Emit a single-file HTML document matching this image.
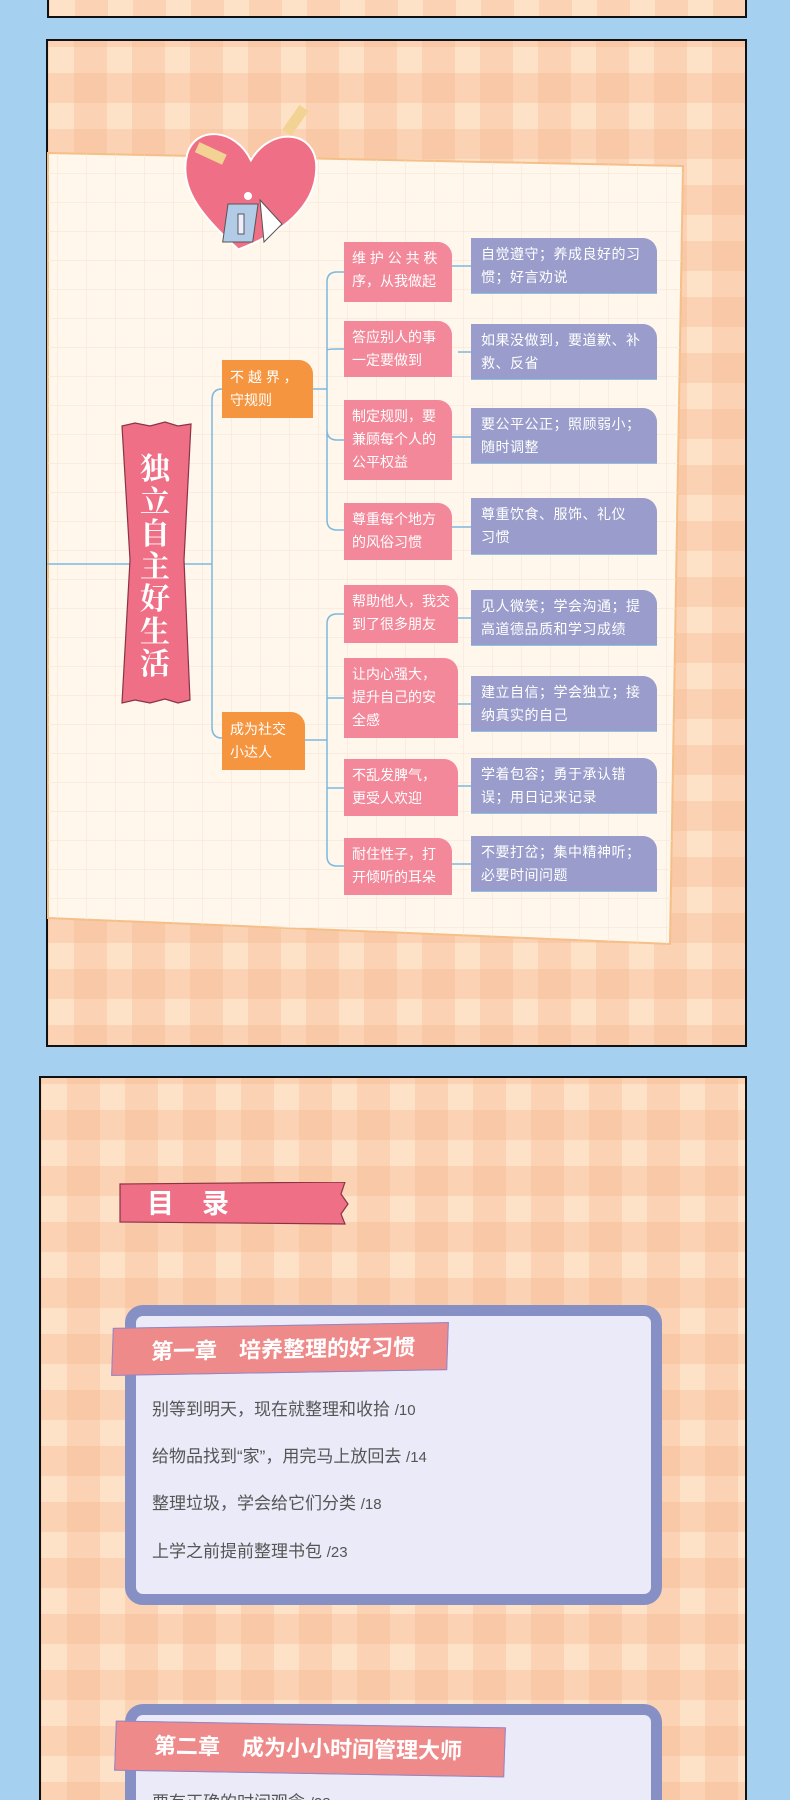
<!DOCTYPE html>
<html style="width:790px;height:1800px;overflow:hidden"><head><meta charset="utf-8"><style>
*{margin:0;padding:0;box-sizing:border-box}
html,body{width:790px;height:1800px;overflow:hidden}
body{background:#a6d0f0;position:relative;font-family:"Liberation Sans","Noto Sans CJK SC",sans-serif}
.panel{position:absolute;border:2px solid #111;background-color:#fde2c8;
background-image:linear-gradient(90deg,rgba(246,180,140,.35) 0 33px,transparent 33px 58px),linear-gradient(0deg,rgba(246,180,140,.35) 0 30px,transparent 30px 56px);
background-size:58px 56px,58px 56px;background-position:26px 0,0 6px}
.a{position:absolute}
.pk{position:absolute;left:344px;width:108px;background:#f2889a;color:#fff;font-size:14px;line-height:23px;padding:5px 4px 4px 8px;border-top-right-radius:14px;white-space:nowrap;overflow:hidden}
.pu{position:absolute;left:471px;width:186px;background:#9a9dcb;color:#fff;font-size:14px;line-height:23px;padding:5px 6px 4px 10px;border-top-right-radius:14px;border-bottom:1px solid #8ec3e0;letter-spacing:.5px;white-space:nowrap;overflow:hidden}
.or{position:absolute;left:222px;background:#f5953f;color:#fff;font-size:14px;line-height:23px;padding:6px 8px;border-top-right-radius:14px}
.item{position:absolute;left:152px;font-size:17px;color:#555}
.item span{font-size:15px}
.rib{position:absolute;background:#ef8a8a;color:#fff;font-weight:bold;font-size:22px;border:1.5px solid #8f86c8;padding-left:38px;line-height:48px}
</style></head><body>
<div class="panel" style="left:47px;top:-10px;width:700px;height:28px"></div>
<div class="panel" style="left:46px;top:39px;width:701px;height:1008px"></div>
<div class="panel" style="left:39px;top:1076px;width:708px;height:730px"></div>

<svg class="a" style="left:0;top:0" width="790" height="1060">
<defs><pattern id="g" width="29" height="29" patternUnits="userSpaceOnUse"><path d="M29 0V29H0" fill="none" stroke="#f6e6d6" stroke-width="1.2"/></pattern></defs>
<polygon points="48,153 683,166 670,944 48,918" fill="#fff6ec" stroke="#f5bf88" stroke-width="2"/>
<polygon points="48,153 683,166 670,944 48,918" fill="url(#g)"/>
<g transform="translate(247,188) rotate(8)">
<path d="M0,62 C-40,35 -68,10 -64,-25 C-60,-55 -20,-58 0,-28 C15,-65 62,-68 66,-28 C70,10 40,40 0,62Z" fill="#ee6f86" stroke="#fff" stroke-width="2"/>
</g>
<rect x="196" y="148" width="30" height="11" fill="#f2d394" transform="rotate(25 211 153)"/>
<rect x="280" y="115" width="30" height="11" fill="#f2d394" transform="rotate(-55 295 120)"/>
<g transform="translate(230,190)"><rect x="0" y="14" width="30" height="38" fill="#b2cbe6" stroke="#555" transform="skewX(-8)"/><rect x="8" y="24" width="6" height="20" fill="#eef" stroke="#555"/><path d="M30 10 L52 34 L34 52 Z" fill="#fff" stroke="#555"/><circle cx="18" cy="6" r="4" fill="#fff"/></g>
<g fill="none" stroke="#7cb8dd" stroke-width="1.5">
<path d="M47 564 H212 M212 400 V727"/>
<path d="M212 400 Q212 389 222 389 M212 727 Q212 738 222 738"/>
<path d="M313 389 H327 M305 740 H327"/>
<path d="M337 272 Q327 272 327 282 V520 Q327 530 337 530 H344 M327 350 Q327 349 337 349 H344 M327 430 Q327 440 337 440 H344 M337 272 H344"/>
<path d="M337 614 Q327 614 327 624 V856 Q327 866 337 866 H344 M327 698 Q327 698 337 698 H344 M327 788 Q327 788 337 788 H344 M337 614 H344"/>
<path d="M452 266 H471 M458 352 H471 M452 437 H471 M452 527 H471 M458 618 H471 M458 704 H471 M452 786 H471 M452 864 H471"/>
</g>
<path d="M122 426 L135 423 L150 426 L165 422 L178 426 L191 424 L184 560 L190 700 L178 703 L165 699 L150 703 L135 700 L122 703 L130 560Z" fill="#ee6f86" stroke="#8a3344" stroke-width="1.2"/>
</svg>
<div class="a" style="left:137px;top:450px;width:36px;color:#fff;font-family:'Noto Serif CJK SC',serif;font-weight:bold;font-size:30px;line-height:32.5px;text-align:center">独立自主好生活</div>

<div class="or" style="top:360px;width:91px">不 越 界 ，<br>守规则</div>
<div class="or" style="top:712px;width:83px">成为社交<br>小达人</div>

<div class="pk" style="top:242px;height:60px">维 护 公 共 秩<br>序，从我做起</div>
<div class="pk" style="top:321px;height:56px">答应别人的事<br>一定要做到</div>
<div class="pk" style="top:400px;height:80px">制定规则，要<br>兼顾每个人的<br>公平权益</div>
<div class="pk" style="top:503px;height:57px">尊重每个地方<br>的风俗习惯</div>
<div class="pk" style="top:585px;height:58px;width:114px">帮助他人，我交<br>到了很多朋友</div>
<div class="pk" style="top:658px;height:80px;width:114px">让内心强大，<br>提升自己的安<br>全感</div>
<div class="pk" style="top:759px;height:57px;width:114px">不乱发脾气，<br>更受人欢迎</div>
<div class="pk" style="top:838px;height:57px">耐住性子，打<br>开倾听的耳朵</div>

<div class="pu" style="top:238px;height:56px">自觉遵守；养成良好的习<br>惯；好言劝说</div>
<div class="pu" style="top:324px;height:56px">如果没做到，要道歉、补<br>救、反省</div>
<div class="pu" style="top:408px;height:56px">要公平公正；照顾弱小；<br>随时调整</div>
<div class="pu" style="top:498px;height:57px">尊重饮食、服饰、礼仪<br>习惯</div>
<div class="pu" style="top:590px;height:56px">见人微笑；学会沟通；提<br>高道德品质和学习成绩</div>
<div class="pu" style="top:676px;height:56px">建立自信；学会独立；接<br>纳真实的自己</div>
<div class="pu" style="top:758px;height:56px">学着包容；勇于承认错<br>误；用日记来记录</div>
<div class="pu" style="top:836px;height:56px">不要打岔；集中精神听；<br>必要时间问题</div>

<svg class="a" style="left:119px;top:1182px" width="232" height="44"><path d="M1 2 L226 0 L222 12 L229 22 L222 32 L226 42 L1 40Z" fill="#ee6f86" stroke="#8a3344" stroke-width="1.2"/></svg>
<div class="a" style="left:147px;top:1184px;color:#fff;font-weight:bold;font-size:27px;line-height:40px;letter-spacing:28px">目录</div>

<div class="a" style="left:125px;top:1305px;width:537px;height:300px;border:11px solid #8790c4;border-radius:18px;background:#eaeaf8"></div>
<div class="rib" style="left:112px;top:1325px;width:336px;height:48px;transform:skew(-2deg,-1deg)">第一章　培养整理的好习惯</div>
<div class="item" style="top:1395px">别等到明天，现在就整理和收拾 <span>/10</span></div>
<div class="item" style="top:1442px">给物品找到“家”，用完马上放回去 <span>/14</span></div>
<div class="item" style="top:1489px">整理垃圾，学会给它们分类 <span>/18</span></div>
<div class="item" style="top:1537px">上学之前提前整理书包 <span>/23</span></div>

<div class="a" style="left:125px;top:1704px;width:537px;height:96px;border:11px solid #8790c4;border-bottom:none;border-radius:18px 18px 0 0;background:#eaeaf8"></div>
<div class="rib" style="left:115px;top:1724px;width:390px;height:50px;transform:skew(-2deg,1deg)">第二章　成为小小时间管理大师</div>
<div class="item" style="top:1788px">要有正确的时间观念 <span>/28</span></div>
</body></html>
